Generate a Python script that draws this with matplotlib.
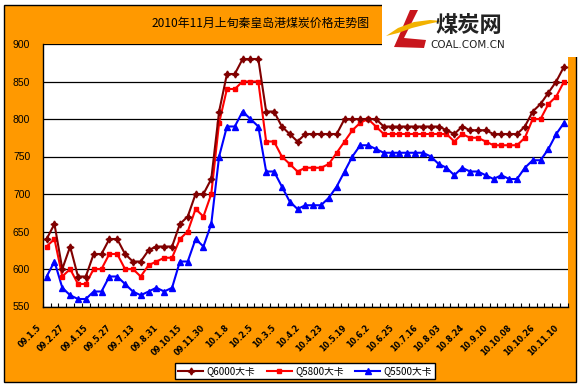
import matplotlib
matplotlib.use('Agg')
import matplotlib.pyplot as plt
from matplotlib.patches import Rectangle, Polygon
import matplotlib.transforms as mtransforms

plt.rcParams['font.family'] = ['Noto Sans CJK SC', 'DejaVu Sans']

title = '2010年11月上旬秦皇岛港煤炭价格走势图'
series_names = ['Q6000大卡', 'Q5800大卡', 'Q5500大卡']
tick_labels = ['09.1.5', '09.2.27', '09.4.15', '09.5.27', '09.7.13', '09.8.31',
               '09.10.15', '09.11.30', '10.1.8', '10.2.5', '10.3.5', '10.4.2',
               '10.4.23', '10.5.19', '10.6.2', '10.6.25', '10.7.16', '10.8.03',
               '10.8.24', '10.9.10', '10.10.08', '10.10.26', '10.11.10']

q6000 = [640, 660, 600, 630, 590, 590, 620, 620, 640, 640, 620, 610, 610, 625, 630, 630, 630,
         660, 670, 700, 700, 720, 810, 860, 860, 880, 880, 880, 810, 810, 790, 780, 770, 780,
         780, 780, 780, 780, 800, 800, 800, 800, 800, 790, 790, 790, 790, 790, 790, 790, 790,
         785, 780, 790, 785, 785, 785, 780, 780, 780, 780, 790, 810, 820, 835, 850, 870]
q5800 = [630, 640, 590, 600, 580, 580, 600, 600, 620, 620, 600, 600, 590, 605, 610, 615, 615,
         640, 650, 680, 670, 700, 795, 840, 840, 850, 850, 850, 770, 770, 750, 740, 730, 735,
         735, 735, 740, 755, 770, 785, 795, 800, 790, 780, 780, 780, 780, 780, 780, 780, 780,
         780, 770, 780, 775, 775, 770, 765, 765, 765, 765, 775, 800, 800, 820, 830, 850]
q5500 = [590, 610, 575, 565, 560, 560, 570, 570, 590, 590, 580, 570, 565, 570, 575, 570, 575,
         610, 610, 640, 630, 660, 750, 790, 790, 810, 800, 790, 730, 730, 710, 690, 680, 685,
         685, 685, 695, 710, 730, 750, 765, 765, 760, 755, 755, 755, 755, 755, 755, 750, 740,
         735, 725, 735, 730, 730, 725, 720, 725, 720, 720, 735, 745, 745, 760, 780, 795]

W, H = 581, 387
fig = plt.figure(figsize=(W / 100, H / 100), dpi=100)
fig.patch.set_facecolor('white')

def fx(px):
    return px / W

def fy(py):
    return 1 - py / H

# outer orange chart frame
fig.patches.append(Rectangle((fx(3.5), fy(382)), fx(572), (382 - 4.5) / H,
                             transform=fig.transFigure, facecolor='#FF9900',
                             edgecolor='black', lw=1.0, zorder=-5))

ax = fig.add_axes([fx(42.7), fy(306.5), fx(568 - 42.7), (306.5 - 44) / H])
ax.set_zorder(1)
ax.set_facecolor('white')

n = len(q6000)
x = list(range(n))
ax.plot(x, q6000, color='#800000', lw=1.5, marker=(4, 1, 0), ms=5, mec='#800000', mfc='#800000',
        label=series_names[0], zorder=4)
ax.plot(x, q5800, color='#FF0000', lw=1.5, marker='s', ms=2.8, mec='#FF0000', mfc='#FF0000',
        label=series_names[1], zorder=3)
ax.plot(x, q5500, color='#0000FF', lw=1.5, marker='^', ms=4.2, mec='#0000FF', mfc='#0000FF',
        label=series_names[2], zorder=2)

ax.set_xlim(-0.5, n - 0.5)
ax.set_ylim(550, 900)
ax.set_yticks(range(550, 901, 50))
ax.yaxis.grid(True, color='black', lw=0.9)
ax.set_axisbelow(True)
ax.tick_params(axis='y', length=0, pad=9, labelsize=7.5)
for lab in ax.get_yticklabels():
    lab.set_fontfamily('Liberation Sans')

ax.set_xticks(range(0, n, 3))
ax.set_xticklabels(tick_labels, rotation=45, ha='right', va='top',
                   fontsize=5.8, fontweight='bold', fontfamily='DejaVu Sans')
ax.set_xticks([k - 0.5 for k in range(n + 1)], minor=True)
ax.tick_params(axis='x', which='major', length=0, pad=12)
ax.tick_params(axis='x', which='minor', direction='in', length=3, width=0.8, color='black')
offset = mtransforms.ScaledTranslation(-4 / 100, 0, fig.dpi_scale_trans)
for lab in ax.get_xticklabels():
    lab.set_transform(lab.get_transform() + offset)

for side in ['top', 'right']:
    ax.spines[side].set_visible(False)
ax.spines['left'].set_color('black')
ax.spines['bottom'].set_color('black')
ax.spines['left'].set_linewidth(1.0)
ax.spines['bottom'].set_linewidth(1.0)

leg = fig.legend(loc='center', bbox_to_anchor=(fx(305), fy(371)), ncol=3, fontsize=7,
                 frameon=True, fancybox=False, edgecolor='black', framealpha=1,
                 handlelength=2.6, handletextpad=0.3, columnspacing=1.2,
                 borderpad=0.35)
leg.get_frame().set_linewidth(1.0)
leg.set_zorder(3)

fig.text(fx(261), fy(23), title, ha='center', va='center', fontsize=8.6, color='black')

# logo area
fig.patches.append(Rectangle((fx(382), fy(57)), fx(W - 382), 57 / H, transform=fig.transFigure,
                             facecolor='white', edgecolor='none', zorder=5))
red_shape = [(410, 10), (418, 10), (412, 22), (404, 38), (426, 40), (424, 48), (394, 47), (398, 38)]
fig.patches.append(Polygon([(fx(a), fy(b)) for a, b in red_shape], closed=True,
                           transform=fig.transFigure, facecolor='#C8161D', edgecolor='none', zorder=6))
yellow_shape = [(386, 36), (398, 28), (414, 22), (430, 20), (442, 21), (428, 24), (412, 28), (398, 33)]
fig.patches.append(Polygon([(fx(a), fy(b)) for a, b in yellow_shape], closed=True,
                           transform=fig.transFigure, facecolor='#F2B200', edgecolor='none', zorder=7))
fig.text(fx(469), fy(26), '煤炭网', ha='center', va='center', fontsize=16, fontweight='bold',
         color='#222222', zorder=8)
fig.text(fx(468), fy(45), 'COAL.COM.CN', ha='center', va='center', fontsize=7.5,
         fontfamily='DejaVu Sans', color='#222222', zorder=8)

fig.savefig('out.png', dpi=100)
